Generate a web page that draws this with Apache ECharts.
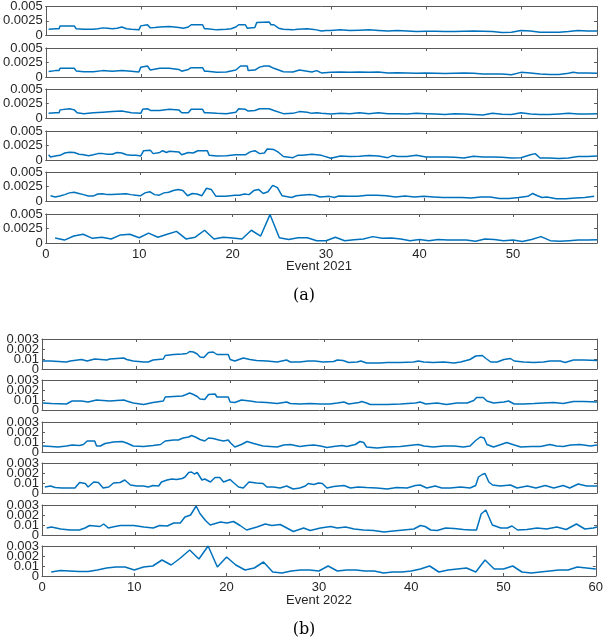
<!DOCTYPE html>
<html><head><meta charset="utf-8">
<script src="https://cdn.jsdelivr.net/npm/echarts@6/dist/echarts.min.js"></script>
<style>html,body{margin:0;padding:0;background:#fff}#c{width:606px;height:640px}</style>
</head><body><div id="c"></div>
<script>
// ---- tick labels ----
const xTicks2021 = [0, 10, 20, 30, 40, 50];
const xTicks2022 = [0, 10, 20, 30, 40, 50, 60];
const yTicks2021 = [0, 0.0025, 0.005];
const yLabels2021 = ['0', '0.0025', '0.005'];
const yTicks2022 = [0, 0.001, 0.002, 0.003];
const yLabels2022 = ['0', '0.01', '0.002', '0.003'];
const xTitle2021 = 'Event 2021';
const xTitle2022 = 'Event 2022';
const caption2021 = '(a)';
const caption2022 = '(b)';

// ---- Event 2021 series ([event, value]) ----
const a1 = [[0.3,0.0010],[1.0,0.0011],[1.4,0.0011],[1.5,0.0016],[3.0,0.0016],[3.2,0.0011],[4,0.0010],[5,0.0010],[5.5,0.0011],[6,0.00125],[6.5,0.0012],[7,0.0011],[7.5,0.0012],[8,0.0014],[8.5,0.0011],[9,0.0010],[9.2,0.0009],[9.8,0.0009],[10,0.0016],[10.7,0.0018],[10.9,0.0018],[11,0.00125],[11.5,0.0013],[12,0.0014],[13,0.0015],[13.5,0.0014],[14,0.0013],[14.5,0.0012],[15,0.0014],[15.2,0.0014],[15.3,0.0018],[16.5,0.0018],[16.7,0.0011],[17,0.0011],[18,0.0009],[19,0.0010],[19.5,0.0011],[20,0.0014],[20.3,0.0018],[21,0.0018],[21.2,0.0012],[22,0.0013],[22.2,0.0022],[23.5,0.0023],[23.7,0.0018],[24,0.0018],[24.5,0.0012],[25,0.0010],[26,0.0009],[26.5,0.0010],[26.7,0.00125],[27.5,0.0011],[28,0.0010],[28.5,0.0009],[29,0.0007],[29.5,0.0008],[30,0.0008],[31,0.0009],[32,0.0008],[33,0.00085],[34,0.0009],[35,0.0008],[36,0.0007],[37,0.0008],[38,0.0007],[39,0.0006],[40,0.00065],[41,0.00065],[42,0.0006],[43,0.0006],[44,0.00065],[45,0.0007],[46,0.00065],[47,0.0006],[48,0.00045],[49,0.0005],[50,0.0008],[51,0.0007],[52,0.0005],[53,0.0005],[54,0.0005],[55,0.0006],[55.5,0.0007],[56,0.0008],[57,0.0007],[58,0.0007]];
const a2 = [[0.3,0.00093],[1,0.0011],[1.4,0.0011],[1.5,0.0015],[3,0.0015],[3.2,0.00105],[4,0.0009],[5,0.0009],[6,0.0011],[7,0.001],[8,0.0011],[9,0.001],[9.2,0.00087],[9.8,0.00087],[10,0.0017],[10.7,0.0019],[10.9,0.0019],[11,0.0012],[12,0.0015],[13,0.0015],[14,0.0013],[14.3,0.001],[15,0.0013],[15.3,0.0016],[16.5,0.0016],[16.7,0.001],[17,0.001],[18,0.0008],[19,0.00087],[20,0.0012],[20.5,0.0019],[21.2,0.0019],[21.3,0.0011],[22,0.0012],[22.5,0.0017],[23,0.0019],[23.5,0.0019],[24,0.0015],[25,0.0009],[26,0.00087],[26.7,0.0012],[27.5,0.001],[28,0.00087],[28.5,0.0011],[29,0.0007],[30,0.0008],[31,0.00087],[32,0.0008],[33,0.00087],[34,0.0008],[35,0.00087],[36,0.0007],[37,0.00075],[38,0.0007],[39,0.00065],[40,0.0007],[41,0.00065],[42,0.0006],[43,0.00065],[44,0.0007],[45,0.00065],[46,0.0005],[47,0.0005],[48,0.0005],[49,0.0004],[50,0.0008],[51,0.0007],[52,0.0005],[53,0.00045],[54,0.00045],[55,0.00065],[55.5,0.0008],[56,0.0007],[57,0.0007],[58,0.00065]];
const a3 = [[0.3,0.0008],[1,0.0009],[1.4,0.0009],[1.5,0.0014],[2.5,0.0016],[3,0.0014],[3.3,0.0009],[4,0.00075],[5,0.0009],[6,0.001],[7,0.0011],[8,0.0012],[9,0.0009],[10,0.0008],[10.2,0.0015],[10.7,0.0016],[11,0.0013],[12,0.0013],[13,0.0015],[14,0.0014],[14.3,0.0009],[15,0.0009],[15.3,0.0015],[16.5,0.0015],[16.7,0.0009],[17,0.0009],[18,0.0008],[19,0.00075],[20,0.001],[20.3,0.0016],[21,0.0015],[21.3,0.0012],[22,0.0013],[22.5,0.0016],[23.5,0.0016],[24,0.0013],[25,0.00075],[26,0.0008],[26.7,0.0011],[27.5,0.001],[28,0.0008],[28.5,0.0009],[29,0.0008],[30,0.0007],[31,0.0008],[32,0.00075],[33,0.0009],[34,0.00075],[35,0.0009],[36,0.00075],[37,0.00075],[38,0.0007],[39,0.0008],[40,0.00075],[41,0.0007],[42,0.0006],[43,0.00075],[44,0.0007],[45,0.0006],[46,0.0005],[47,0.0008],[48,0.00065],[49,0.0006],[50,0.0009],[51,0.0007],[52,0.0006],[53,0.0006],[54,0.0007],[55,0.0008],[56,0.0007],[57,0.0007],[58,0.00075]];
const a4 = [[0.3,0.0009],[0.5,0.0005],[1,0.0007],[1.5,0.0008],[2,0.0012],[2.5,0.00135],[3,0.0013],[3.5,0.001],[4,0.0009],[4.5,0.00075],[5,0.0009],[5.5,0.0011],[6,0.0011],[6.5,0.001],[7,0.001],[7.5,0.0013],[8,0.0012],[8.5,0.0009],[9,0.0008],[9.5,0.0008],[10,0.0007],[10.3,0.0016],[11,0.0017],[11.3,0.0011],[12,0.0013],[12.3,0.0016],[12.7,0.0013],[13,0.0015],[14,0.0014],[14.3,0.0009],[15,0.0013],[15.5,0.0012],[16,0.0016],[17,0.0016],[17.2,0.0008],[18,0.0007],[19,0.00075],[20,0.0009],[21,0.0009],[21.5,0.0014],[22,0.0016],[22.5,0.0011],[23,0.0012],[23.3,0.0019],[24,0.0018],[24.5,0.0013],[25,0.0006],[26,0.0004],[26.5,0.0008],[27,0.0008],[28,0.001],[29,0.0008],[30,0.0003],[31,0.0007],[32,0.0006],[33,0.00065],[34,0.00076],[35,0.0007],[36,0.0004],[36.5,0.00076],[37,0.0006],[38,0.0006],[39,0.0008],[40,0.0005],[41,0.0005],[42,0.0005],[43,0.00047],[44,0.00035],[45,0.00065],[46,0.0005],[47,0.0005],[48,0.00047],[49,0.00035],[50,0.0004],[51,0.0009],[51.5,0.0011],[52,0.00035],[53,0.00035],[54,0.00025],[55,0.00035],[56,0.0006],[57,0.0006],[58,0.0007]];
const a5 = [[0.5,0.0009],[1,0.0007],[1.5,0.00085],[2,0.0011],[2.5,0.0014],[3,0.0015],[3.5,0.0013],[4,0.0011],[4.5,0.00085],[5,0.00085],[5.5,0.0012],[6,0.00125],[6.5,0.0011],[7,0.0011],[8,0.0012],[8.5,0.00125],[9,0.0011],[9.5,0.001],[10,0.0009],[10.5,0.0014],[11,0.0016],[11.5,0.0011],[12,0.001],[12.5,0.0014],[13,0.0015],[13.5,0.0018],[14,0.002],[14.5,0.0018],[15,0.0009],[15.5,0.0013],[16,0.0012],[16.5,0.0009],[17,0.0022],[17.5,0.002],[18,0.0008],[19,0.0008],[20,0.001],[20.5,0.001],[21,0.0012],[21.5,0.0011],[22,0.0018],[22.5,0.002],[23,0.0013],[23.5,0.0016],[24,0.0027],[24.5,0.0023],[25,0.0009],[26,0.0006],[26.5,0.0009],[27,0.001],[28,0.0011],[28.5,0.001],[29,0.0007],[30,0.0008],[30.5,0.0006],[31,0.00085],[32,0.0008],[33,0.0008],[34,0.001],[35,0.001],[36,0.0009],[37,0.0007],[38,0.00085],[39,0.0007],[40,0.0008],[41,0.0007],[42,0.0006],[43,0.0006],[44,0.0006],[45,0.0005],[46,0.0007],[47,0.0007],[48,0.00045],[49,0.00045],[50,0.0006],[51,0.0008],[51.5,0.0013],[52,0.0009],[52.5,0.0006],[53,0.0007],[54,0.0004],[55,0.0004],[56,0.0005],[57,0.0006],[58,0.0008]];
const a6 = [[1,0.00085],[2,0.0005],[3,0.0012],[4,0.0015],[5,0.0008],[6,0.001],[7,0.0007],[8,0.0014],[9,0.0015],[10,0.0009],[11,0.0017],[12,0.001],[13,0.0015],[14,0.002],[15,0.0007],[16,0.001],[17,0.0022],[18,0.0007],[19,0.001],[20,0.00085],[21,0.0007],[22,0.0022],[23,0.0012],[24,0.0049],[25,0.0009],[26,0.0006],[27,0.0009],[28,0.0009],[29,0.0004],[30,0.0004],[31,0.001],[32,0.0004],[33,0.00055],[34,0.0007],[35,0.0011],[36,0.0008],[37,0.00085],[38,0.0007],[39,0.0004],[40,0.0006],[41,0.0004],[42,0.0006],[43,0.0005],[44,0.0005],[45,0.0005],[46,0.0003],[47,0.0007],[48,0.0006],[49,0.0004],[50,0.0005],[51,0.00025],[52,0.0006],[53,0.0011],[54,0.0004],[55,0.0003],[56,0.0004],[57,0.0005],[58,0.0005],[59,0.00055]];

// ---- Event 2022 series ([event, value]) ----
const b1 = [[0.1,0.0008],[0.9,0.0008],[1.1,0.0007],[2.6,0.0007],[3,0.0008],[3.2,0.00095],[4.2,0.00095],[4.4,0.0008],[4.8,0.0008],[5,0.001],[5.6,0.001],[5.8,0.0008],[6.9,0.0009],[7.2,0.001],[8.7,0.0011],[9,0.00095],[9.7,0.0008],[10.8,0.0007],[11.3,0.0007],[11.8,0.0009],[12.9,0.001],[13.1,0.00135],[14,0.00145],[14.1,0.0013],[14.9,0.0015],[15.4,0.00155],[15.7,0.00175],[16.1,0.0017],[16.5,0.0015],[16.8,0.0012],[17.2,0.00115],[17.7,0.00165],[18.2,0.0017],[18.6,0.00145],[19.8,0.00145],[20,0.00095],[20.5,0.0008],[21.4,0.0011],[22.1,0.00095],[22.8,0.00085],[23.9,0.0008],[25,0.0007],[25.1,0.0009],[26,0.0009],[26.4,0.0007],[27.4,0.0007],[27.6,0.0008],[28.3,0.0008],[29,0.0008],[29.9,0.0007],[31,0.00075],[31.4,0.0009],[32,0.00085],[32.6,0.00065],[33.5,0.0007],[33.9,0.0008],[34.2,0.0007],[34.5,0.0006],[35.9,0.0006],[36.7,0.00065],[38.1,0.00065],[39.5,0.0007],[40,0.0008],[40.6,0.0007],[41.6,0.00065],[42.7,0.0007],[43.8,0.0006],[44.5,0.0007],[45.5,0.00095],[46.1,0.0013],[46.8,0.00135],[47.2,0.00105],[47.7,0.0007],[48.4,0.0007],[49.1,0.00095],[49.8,0.00105],[50.2,0.0008],[51.2,0.0007],[52.3,0.00065],[53.3,0.0007],[54,0.0008],[55.1,0.0008],[55.6,0.00065],[56.5,0.0009],[57.6,0.0009],[59,0.00085]];
const b2 = [[0.1,0.0007],[1,0.00065],[1.2,0.00055],[2.6,0.0006],[3.2,0.0009],[4.2,0.0009],[4.4,0.00075],[4.9,0.0008],[5.1,0.001],[5.8,0.001],[6,0.0008],[7.2,0.0009],[8.7,0.001],[9,0.0009],[9.7,0.0007],[10.8,0.00055],[11.8,0.00075],[12.9,0.0009],[13.1,0.0013],[14,0.00135],[14.2,0.0012],[14.9,0.0014],[15.2,0.0015],[15.7,0.0017],[16.1,0.00155],[16.5,0.00135],[16.8,0.0011],[17.3,0.00105],[17.7,0.00155],[18.4,0.0016],[18.6,0.0013],[19.8,0.0013],[20,0.0008],[20.5,0.00075],[21.2,0.001],[22.1,0.0009],[22.8,0.0008],[23.9,0.00075],[25,0.00065],[25.1,0.0008],[26,0.0008],[26.4,0.00065],[27.4,0.0006],[28.5,0.00065],[29.6,0.0006],[30.6,0.0006],[31.4,0.0007],[32.1,0.0008],[32.6,0.0006],[33.7,0.00075],[34,0.00085],[34.5,0.0007],[34.9,0.00055],[36.7,0.00055],[38.1,0.0006],[39.7,0.0007],[40.2,0.0008],[40.8,0.0006],[42,0.0007],[43,0.00055],[44.1,0.0007],[45.2,0.0007],[45.9,0.00095],[46.2,0.00125],[46.9,0.00125],[47.3,0.0009],[48,0.0007],[49.1,0.0008],[49.6,0.0009],[50.2,0.0006],[51.2,0.0006],[52.3,0.00065],[53.3,0.0007],[54.4,0.00075],[55.4,0.00065],[56.5,0.00085],[57.6,0.00085],[59,0.0008]];
const b3 = [[0.1,0.0006],[1,0.00055],[1.7,0.0005],[2.6,0.0006],[3.2,0.0007],[4,0.00065],[4.4,0.00075],[4.8,0.0011],[5.6,0.0011],[5.8,0.0006],[6.2,0.0006],[6.7,0.00085],[7.6,0.001],[8.5,0.00105],[9,0.0009],[9.7,0.0006],[10.8,0.00055],[11.8,0.00065],[12.6,0.00075],[13.1,0.0011],[14,0.0012],[14.5,0.0012],[15,0.0014],[15.6,0.0015],[15.9,0.00165],[16.3,0.0015],[16.8,0.00125],[17.3,0.0011],[17.7,0.0014],[18.2,0.00135],[18.8,0.0012],[19.3,0.0011],[19.8,0.0012],[20,0.00095],[20.5,0.0005],[21.2,0.00075],[21.8,0.00105],[22.5,0.00085],[23.5,0.0006],[25,0.0005],[25.7,0.0007],[26.4,0.00075],[27.4,0.00055],[28.2,0.00065],[28.9,0.0007],[29.6,0.0006],[30.3,0.00045],[31,0.00055],[31.9,0.00065],[32.4,0.00055],[33.3,0.00075],[33.8,0.00105],[34.2,0.00095],[34.5,0.0005],[35.6,0.0004],[36.7,0.0005],[38.1,0.00055],[39.5,0.0007],[40,0.00075],[40.6,0.0006],[41.6,0.0005],[42.7,0.0006],[43.8,0.0006],[44.8,0.0005],[45.5,0.0006],[46.1,0.00115],[46.6,0.0015],[47,0.0014],[47.3,0.00075],[48,0.0005],[48.8,0.00075],[49.4,0.00095],[50.2,0.0007],[50.9,0.0005],[52,0.00055],[53,0.00055],[54,0.00075],[54.7,0.0006],[55.4,0.00055],[56.2,0.0007],[57.2,0.00075],[58.3,0.0006],[59,0.0007]];
const b4 = [[0.3,0.0006],[0.9,0.0007],[1.4,0.00055],[2.1,0.0005],[2.8,0.0005],[3.5,0.0005],[4,0.00105],[4.6,0.00095],[4.9,0.0006],[5.5,0.0011],[6,0.00105],[6.5,0.0005],[7.1,0.0006],[7.6,0.001],[8.3,0.00105],[8.8,0.0013],[9.4,0.0008],[10.1,0.0007],[10.8,0.0007],[11.3,0.0006],[11.8,0.00075],[12.4,0.0007],[12.7,0.0011],[13.3,0.0013],[13.8,0.0014],[14.3,0.00135],[14.9,0.00145],[15.2,0.0016],[15.6,0.00205],[15.9,0.0021],[16.2,0.0019],[16.5,0.00205],[17,0.0013],[17.3,0.0014],[17.9,0.0011],[18.4,0.00155],[18.9,0.00155],[19.3,0.0011],[20,0.00135],[20.4,0.001],[20.9,0.0006],[21.4,0.0005],[22,0.0011],[22.8,0.001],[23.5,0.00095],[23.9,0.0006],[24.6,0.0006],[25.3,0.0005],[26,0.0007],[26.7,0.0004],[27.4,0.0005],[28,0.0007],[28.3,0.00095],[28.9,0.00085],[29.4,0.001],[29.8,0.00095],[30.3,0.0005],[31,0.00065],[32.1,0.00075],[32.8,0.0005],[33.6,0.0006],[34.5,0.00055],[35.6,0.0005],[36.7,0.0004],[37.7,0.00055],[38.8,0.0005],[39.7,0.00075],[40.2,0.0008],[40.9,0.0005],[41.8,0.0007],[42.5,0.0005],[43.4,0.0005],[44.5,0.0006],[45.5,0.0005],[46.1,0.00075],[46.4,0.0016],[46.8,0.00185],[47.1,0.00195],[47.5,0.0011],[47.9,0.0008],[48.7,0.0007],[49.8,0.0008],[50.5,0.0005],[51.6,0.0007],[52.5,0.0005],[53.5,0.00075],[54.4,0.0005],[55.4,0.00075],[56.1,0.0005],[57,0.0009],[57.9,0.0007],[59,0.0007]];
const b5 = [[0.5,0.0007],[1,0.0008],[2,0.0006],[3,0.0005],[4,0.0005],[4.6,0.0007],[5.1,0.00095],[6.2,0.00085],[6.6,0.0011],[7.1,0.0007],[7.8,0.00085],[8.4,0.00095],[9.8,0.00095],[10.9,0.0008],[11.9,0.0007],[12.6,0.00095],[13.4,0.0009],[14.1,0.0012],[14.8,0.0012],[15.3,0.0018],[15.9,0.002],[16.5,0.0029],[16.9,0.00215],[17.5,0.00145],[18,0.001],[19.1,0.0013],[19.8,0.0012],[20.5,0.00135],[21.2,0.00095],[21.9,0.0005],[23,0.0008],[23.9,0.0011],[24.6,0.00095],[25.5,0.00105],[26.2,0.0007],[26.9,0.00035],[28,0.0007],[28.7,0.00045],[29.8,0.0007],[30.9,0.00085],[31.6,0.0007],[32.5,0.0008],[33.4,0.0006],[34.4,0.0005],[35.5,0.00045],[36.6,0.0003],[37.6,0.0004],[38.7,0.0005],[39.8,0.0006],[40.5,0.00095],[41,0.00085],[41.6,0.0005],[42.3,0.00045],[43.2,0.0007],[44.1,0.00065],[45.1,0.00055],[45.9,0.0005],[46.5,0.0005],[47,0.0021],[47.5,0.0025],[48.2,0.001],[49.1,0.0007],[49.8,0.0007],[50.3,0.0009],[50.9,0.0005],[51.9,0.00055],[53,0.0007],[54,0.0006],[55.1,0.0008],[56.1,0.00055],[57.2,0.0011],[58.1,0.0006],[59,0.0007],[59.4,0.0008]];
const b6 = [[1,0.0004],[2,0.00055],[3,0.0005],[4,0.00045],[5,0.00045],[6,0.0006],[7,0.0008],[8,0.0009],[9,0.0009],[10,0.0006],[11,0.0009],[12,0.001],[13,0.0016],[14,0.0011],[15,0.0018],[16,0.0026],[17,0.0017],[18,0.003],[19,0.0009],[20,0.0019],[21,0.0011],[22,0.0006],[23,0.0008],[24,0.0014],[25,0.0004],[26,0.0003],[27,0.0005],[28,0.0006],[29,0.0006],[30,0.0005],[31,0.001],[32,0.0005],[33,0.0006],[34,0.0006],[35,0.0005],[36,0.0005],[37,0.0003],[38,0.0004],[39,0.0004],[40,0.0005],[41,0.0007],[42,0.001],[43,0.0004],[44,0.0006],[45,0.0007],[46,0.0008],[47,0.0004],[48,0.0016],[49,0.0007],[50,0.0007],[51,0.001],[52,0.0004],[53,0.0003],[54,0.0004],[55,0.0005],[56,0.0006],[57,0.0006],[58,0.0009],[59,0.0008],[60,0.0007]];

// ---- layout ----
const FONT = 'Liberation Sans, Arial, Helvetica, sans-serif';
const TXT = '#262626';
const AX = '#5a5a5a';
const BLUE = '#0072BD';
const panels = [
  {d:a1, top:6,   h:29, xMax:58,   yMax:0.005, yT:yTicks2021, yL:yLabels2021, xT:xTicks2021, lab:false},
  {d:a2, top:48,  h:29, xMax:58,   yMax:0.005, yT:yTicks2021, yL:yLabels2021, xT:xTicks2021, lab:false},
  {d:a3, top:89,  h:29, xMax:58,   yMax:0.005, yT:yTicks2021, yL:yLabels2021, xT:xTicks2021, lab:false},
  {d:a4, top:131, h:29, xMax:58,   yMax:0.005, yT:yTicks2021, yL:yLabels2021, xT:xTicks2021, lab:false},
  {d:a5, top:172, h:29, xMax:58.3, yMax:0.005, yT:yTicks2021, yL:yLabels2021, xT:xTicks2021, lab:false},
  {d:a6, top:214, h:29, xMax:59,   yMax:0.005, yT:yTicks2021, yL:yLabels2021, xT:xTicks2021, lab:true},
  {d:b1, top:339, h:30, xMax:59,   yMax:0.003, yT:yTicks2022, yL:yLabels2022, xT:xTicks2022, lab:false},
  {d:b2, top:380, h:30, xMax:59,   yMax:0.003, yT:yTicks2022, yL:yLabels2022, xT:xTicks2022, lab:false},
  {d:b3, top:422, h:30, xMax:59,   yMax:0.003, yT:yTicks2022, yL:yLabels2022, xT:xTicks2022, lab:false},
  {d:b4, top:463, h:30, xMax:59,   yMax:0.003, yT:yTicks2022, yL:yLabels2022, xT:xTicks2022, lab:false},
  {d:b5, top:505, h:30, xMax:59.4, yMax:0.003, yT:yTicks2022, yL:yLabels2022, xT:xTicks2022, lab:false},
  {d:b6, top:546, h:30, xMax:60,   yMax:0.003, yT:yTicks2022, yL:yLabels2022, xT:xTicks2022, lab:true}
];

const grid = [], xAxis = [], yAxis = [], series = [];
panels.forEach((p, i) => {
  grid.push({left:42, right:9, top:p.top, height:p.h, containLabel:false});
  const line = {show:true, onZero:false, lineStyle:{color:AX, width:1}};
  const xt = {show:true, inside:true, length:3, customValues:p.xT, lineStyle:{color:AX}};
  xAxis.push({type:'value', gridIndex:i, min:0, max:p.xMax, position:'bottom',
    axisLine:line, axisTick:xt, splitLine:{show:false},
    axisLabel:{show:p.lab, customValues:p.xT, showMinLabel:true, showMaxLabel:true, hideOverlap:false,
      margin:5, fontSize:13, fontFamily:FONT, color:TXT}});
  xAxis.push({type:'value', gridIndex:i, min:0, max:p.xMax, position:'top',
    axisLine:line, axisTick:xt, splitLine:{show:false}, axisLabel:{show:false}});
  const yt = {show:true, inside:true, length:3, customValues:p.yT, lineStyle:{color:AX}};
  const fmt = (v) => {
    let best = 0, bd = Infinity;
    p.yT.forEach((t, k) => { const dd = Math.abs(t - Number(v)); if (dd < bd) { bd = dd; best = k; } });
    return p.yL[best];
  };
  // labels split into two non-overlapping sets (alternate ticks) so none gets dropped
  const setA = p.yT.filter((_, k) => k % 2 === 0);
  const setB = p.yT.filter((_, k) => k % 2 === 1);
  const base = {type:'value', gridIndex:i, min:0, max:p.yMax, splitLine:{show:false}};
  yAxis.push(Object.assign({}, base, {position:'left', axisLine:line, axisTick:yt,
    axisLabel:{show:true, customValues:setA, showMinLabel:true, showMaxLabel:true, hideOverlap:false,
      margin:3, fontSize:13, fontFamily:FONT, color:TXT, formatter:fmt}}));
  yAxis.push(Object.assign({}, base, {position:'right', axisLine:line, axisTick:yt, axisLabel:{show:false}}));
  yAxis.push(Object.assign({}, base, {position:'left', offset:0, axisLine:{show:false}, axisTick:{show:false},
    axisLabel:{show:true, customValues:setB, showMinLabel:true, showMaxLabel:true, hideOverlap:false,
      margin:3, fontSize:13, fontFamily:FONT, color:TXT, formatter:fmt}}));
  series.push({type:'line', xAxisIndex:2*i, yAxisIndex:3*i, data:p.d, showSymbol:false,
    lineStyle:{color:BLUE, width:1.5}, clip:true, silent:true});
});

const chart = echarts.init(document.getElementById('c'), null, {renderer:'canvas'});
chart.setOption({
  animation:false,
  backgroundColor:'#fff',
  grid, xAxis, yAxis, series,
  graphic:[
    {type:'text', style:{text:xTitle2021, x:319, y:266, align:'center', verticalAlign:'middle', font:'13px '+FONT, fill:TXT}},
    {type:'text', style:{text:caption2021, x:304, y:296, align:'center', verticalAlign:'middle', font:'16px "DejaVu Serif", serif', fill:'#000'}},
    {type:'text', style:{text:xTitle2022, x:319, y:600, align:'center', verticalAlign:'middle', font:'13px '+FONT, fill:TXT}},
    {type:'text', style:{text:caption2022, x:304, y:630, align:'center', verticalAlign:'middle', font:'16px "DejaVu Serif", serif', fill:'#000'}}
  ]
});
</script></body></html>
